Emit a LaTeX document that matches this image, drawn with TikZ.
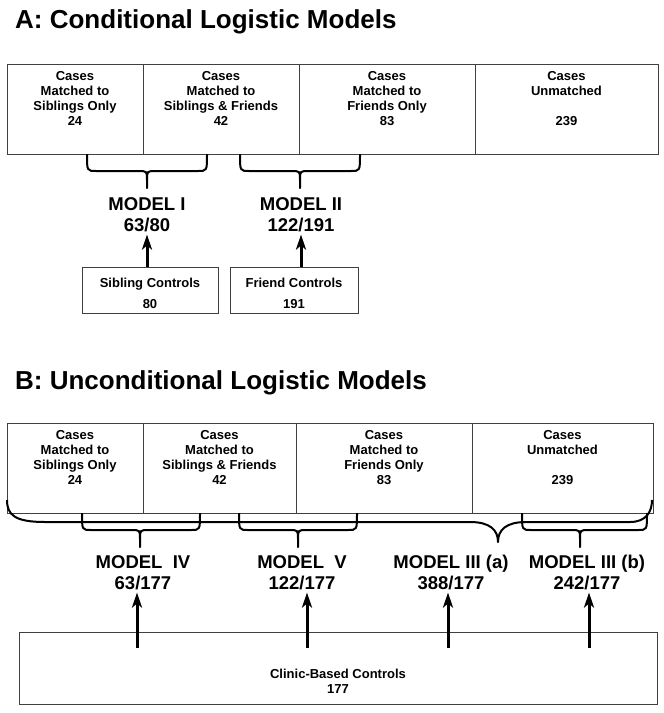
\documentclass[tikz,border=0pt]{standalone}
\usepackage{fontspec}
\setmainfont{Liberation Sans}
\usetikzlibrary{arrows.meta}

\tikzset{
  cellbox/.style={draw=black!75, line width=1pt},
  celltext/.style={font=\fontsize{13}{15}\selectfont\bfseries, align=center, anchor=base, inner sep=0pt},
  ctrlbox/.style={draw=black!75, line width=1pt, inner sep=0pt},
  ctrltext/.style={font=\fontsize{13}{21}\selectfont\bfseries, align=center, anchor=base, inner sep=0pt},
  modeltext/.style={font=\fontsize{18.5}{21}\selectfont\bfseries, align=center, anchor=base, inner sep=3pt},
  paneltitle/.style={font=\fontsize{26}{30}\selectfont\bfseries, anchor=base west, inner sep=0pt},
  bracepath/.style={line width=2pt, line join=round},
  uparrow/.style={line width=3pt, -{Stealth[length=15pt,width=10pt,inset=4pt]}},
}

\newcommand{\downbrace}[4]{%
  \draw[bracepath] (#1,#4) .. controls (#1,#4+17) .. (#1+9,#4+17) -- (#3-9,#4+17)
    .. controls (#3,#4+17) .. (#3,#4+26) -- (#3,#4+34) -- (#3,#4+26)
    .. controls (#3,#4+17) .. (#3+9,#4+17) -- (#2-9,#4+17)
    .. controls (#2,#4+17) .. (#2,#4);
}

\begin{document}
\begin{tikzpicture}[x=1pt, y=-1pt]
  \useasboundingbox (0,0) rectangle (664,713);

  \node[paneltitle] (titleA) at (15,28) {A: Conditional Logistic Models};

  \draw[cellbox] (7,64) rectangle (658,154);
  \foreach \x in {143,299,475} {
    \draw[cellbox] (\x,64) -- (\x,154);
  }
  \node[celltext] (a1) at (75,125) {Cases\\Matched to\\Siblings Only\\24};
  \node[celltext] (a2) at (221,125) {Cases\\Matched to\\Siblings \& Friends\\42};
  \node[celltext] (a3) at (387,125) {Cases\\Matched to\\Friends Only\\83};
  \node[celltext] (a4) at (566.5,125) {Cases\\Unmatched\\[15pt]239};

  \downbrace{87}{207}{147}{154}
  \downbrace{240}{360}{300}{154}

  \node[modeltext] (mI) at (147,231) {MODEL I\\63/80};
  \node[modeltext] (mII) at (301,231) {MODEL II\\122/191};

  \node[ctrlbox, minimum width=136pt, minimum height=46pt] (sib) at (150,290) {};
  \node[ctrltext] (sibtext) at (150,308) {Sibling Controls\\80};
  \node[ctrlbox, minimum width=128pt, minimum height=46pt] (fri) at (294,290) {};
  \node[ctrltext] (fritext) at (294,308) {Friend Controls\\191};

  \draw[uparrow] (sib.north -| mI) -- (mI.south);
  \draw[uparrow] (fri.north -| mII) -- (mII.south);

  \node[paneltitle] (titleB) at (15,389) {B: Unconditional Logistic Models};

  \draw[cellbox] (7,423) rectangle (653,513);
  \foreach \x in {143,296,472} {
    \draw[cellbox] (\x,423) -- (\x,513);
  }
  \node[celltext] (b1) at (75,484) {Cases\\Matched to\\Siblings Only\\24};
  \node[celltext] (b2) at (219.5,484) {Cases\\Matched to\\Siblings \& Friends\\42};
  \node[celltext] (b3) at (384,484) {Cases\\Matched to\\Friends Only\\83};
  \node[celltext] (b4) at (562.5,484) {Cases\\Unmatched\\[15pt]239};

  \draw[bracepath] (7,500) .. controls (7,515) and (15,522) .. (45,522) -- (470,522)
    .. controls (490,522) and (498,530) .. (498,542)
    .. controls (498,530) and (506,522) .. (526,522) -- (630,522)
    .. controls (646,522) and (652,512) .. (652,500);
  \downbrace{82}{200}{140}{513}
  \downbrace{239}{357}{298}{513}
  \downbrace{522}{647}{580}{513}

  \node[modeltext] (mIV) at (143,589) {MODEL\ \ IV\\63/177};
  \node[modeltext] (mV) at (302,589) {MODEL\ \ V\\122/177};
  \node[modeltext] (mIIIa) at (451,589) {MODEL III (a)\\388/177};
  \node[modeltext] (mIIIb) at (587,589) {MODEL III (b)\\242/177};

  \draw[cellbox] (19,632) rectangle (657,704);
  \node[celltext] (clinic) at (338,693) {Clinic-Based Controls\\177};

  \coordinate (c4) at (137,648);
  \coordinate (c5) at (307,648);
  \coordinate (c3a) at (448,648);
  \coordinate (c3b) at (589,648);
  \draw[uparrow] (c4) -- (c4 |- mIV.south);
  \draw[uparrow] (c5) -- (c5 |- mV.south);
  \draw[uparrow] (c3a) -- (c3a |- mIIIa.south);
  \draw[uparrow] (c3b) -- (c3b |- mIIIb.south);
\end{tikzpicture}
\end{document}
